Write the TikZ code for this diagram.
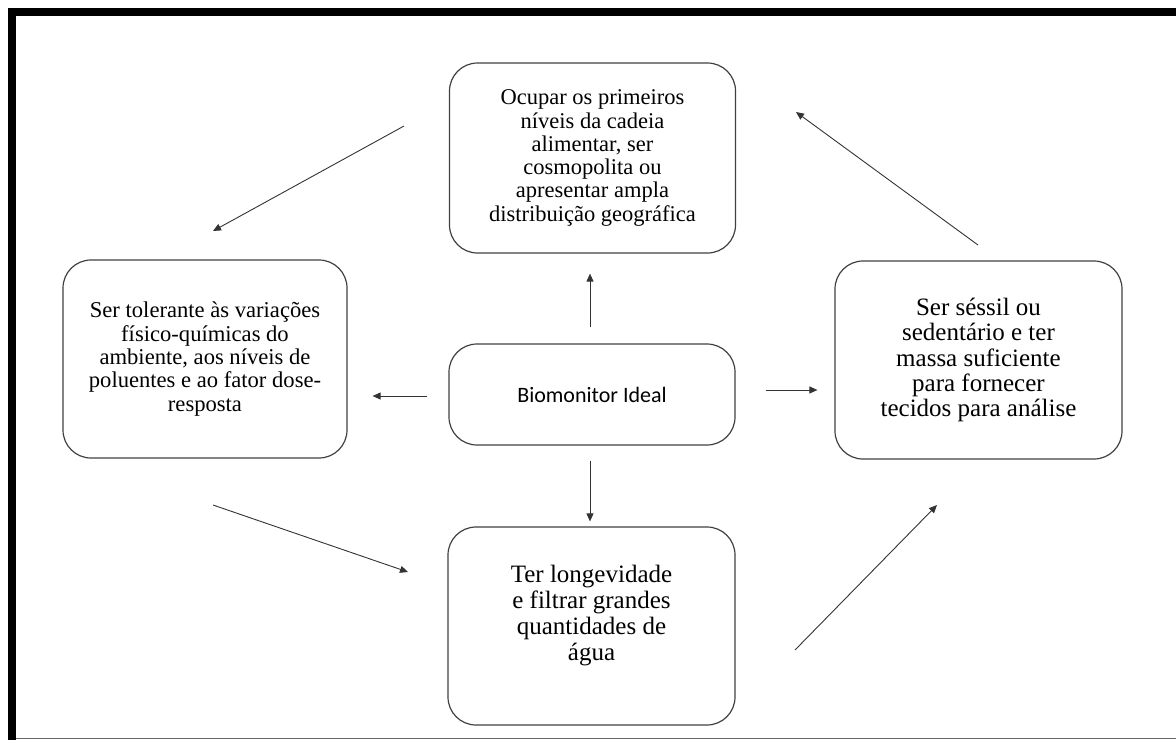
\documentclass[tikz,border=0pt]{standalone}
\usepackage{fontspec}
\setmainfont{Liberation Serif}
\newfontfamily\timesfont{Liberation Serif}
\newfontfamily\calibri{Carlito}
\usepackage{tikz}
\usetikzlibrary{positioning,arrows.meta}

\tikzset{
	caixa/.style={draw=black!75, line width=1.2pt, rounded corners=28pt, align=center, minimum width=286pt},
	seta/.style={draw=black!80, line width=0.9pt, -{Triangle[length=8pt,width=7pt]}},
}

\begin{document}
\begin{tikzpicture}[x=1pt,y=-1pt]
				\useasboundingbox (0,0) rectangle (1176,740);
				%%%frame
				\fill (8,8) rectangle (1176,16);
				\fill (8,8) rectangle (16,740);
				\draw[black!60, line width=1pt] (16,738.5) -- (1176,738.5);
				%%%nodes
				%centre
				\node[caixa, minimum height=101pt, font=\calibri\fontsize{22}{26}\selectfont] at (592,394.5) (bio){Biomonitor Ideal};
				%top
				\node[caixa, minimum height=190pt, font=\timesfont\fontsize{22.5}{23.3}\selectfont] at (592.5,158) (cadeia){Ocupar os primeiros\\ níveis da cadeia\\ alimentar, ser\\ cosmopolita ou\\ apresentar ampla\\ distribuição geográfica};
				%left
				\node[caixa, minimum width=284pt, minimum height=198pt, font=\timesfont\fontsize{22.6}{23.3}\selectfont] at (205,359) (tolerante){Ser tolerante às variações\\ físico-químicas do\\ ambiente, aos níveis de\\ poluentes e ao fator dose-\\ resposta};
				%right
				\node[caixa, minimum width=287pt, minimum height=198pt, font=\timesfont\fontsize{25}{25.4}\selectfont] at (978.5,360) (sessil){Ser séssil ou\\ sedentário e ter\\ massa suficiente\\ para fornecer\\ tecidos para análise};
				%bottom
				\node[caixa, minimum width=287pt, minimum height=198pt, font=\timesfont\fontsize{25}{26}\selectfont] at (591.5,626) (agua){Ter longevidade\\ e filtrar grandes\\ quantidades de\\ água\\ \mbox{}};
				%%%free ends of the cycle
				\coordinate (c1) at (404,126);
				\coordinate (t1) at (213,231);
				\coordinate (c2) at (213,505);
				\coordinate (t2) at (408,572);
				\coordinate (c3) at (795,650);
				\coordinate (t3) at (937,505);
				\coordinate (c4) at (978,245);
				\coordinate (t4) at (796,112);
				%%%links
				%from the centre
				\draw[seta, shorten <=16pt, shorten >=20pt] ([xshift=-2pt]bio.north) -- ([xshift=-2pt]bio.north |- cadeia.south);
				\draw[seta, shorten <=21pt, shorten >=25pt] ([yshift=-1.5pt]bio.west) -- ([yshift=-1.5pt]bio.west -| tolerante.east);
				\draw[seta, shorten <=30pt, shorten >=17pt] ([yshift=4.5pt]bio.east) -- ([yshift=4.5pt]bio.east -| sessil.west);
				\draw[seta, shorten <=15pt, shorten >=5pt] ([xshift=-2pt]bio.south) -- ([xshift=-2pt]bio.south |- agua.north);
				%cycle
				\draw[seta] (c1) -- (t1);
				\draw[seta] (c2) -- (t2);
				\draw[seta] (c3) -- (t3);
				\draw[seta] (c4) -- (t4);
			\end{tikzpicture}
\end{document}
